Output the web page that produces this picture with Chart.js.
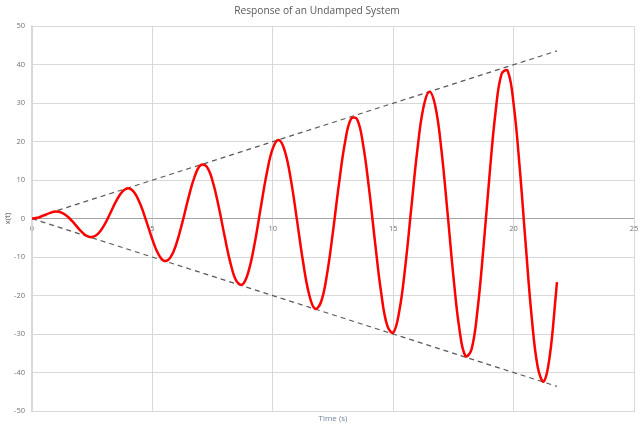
<!DOCTYPE html>
<html>
<head>
<meta charset="utf-8">
<script src="https://cdn.jsdelivr.net/npm/chart.js@4/dist/chart.umd.min.js"></script>
<style>
html,body{margin:0;padding:0;background:#fff;}
#wrap{width:640px;height:429px;position:relative;}
</style>
</head>
<body>
<div id="wrap"><canvas id="c"></canvas></div>
<script>
// Time samples (s)
const timeValues = [
  0, 0.25, 0.5, 0.75, 1, 1.25, 1.5, 1.75, 2, 2.25, 2.5, 2.75, 3, 3.25, 3.5, 3.75,
  4, 4.25, 4.5, 4.75, 5, 5.25, 5.5, 5.75, 6, 6.25, 6.5, 6.75, 7, 7.25, 7.5, 7.75,
  8, 8.25, 8.5, 8.75, 9, 9.25, 9.5, 9.75, 10, 10.25, 10.5, 10.75, 11, 11.25, 11.5, 11.75,
  12, 12.25, 12.5, 12.75, 13, 13.25, 13.5, 13.75, 14, 14.25, 14.5, 14.75, 15, 15.25, 15.5, 15.75,
  16, 16.25, 16.5, 16.75, 17, 17.25, 17.5, 17.75, 18, 18.25, 18.5, 18.75, 19, 19.25, 19.5, 19.75,
  20, 20.25, 20.5, 20.75, 21, 21.25, 21.5, 21.75, 21.8
];
// Response x(t)
const responseValues = [
  0, 0.24, 0.84, 1.5, 1.82, 1.5, 0.42, -1.23, -3.03, -4.4, -4.79, -3.88, -1.68, 1.4, 4.6, 7.04,
  7.92, 6.79, 3.71, -0.71, -5.44, -9.24, -11.0, -10.07, -6.44, -0.83, 5.46, 10.85, 13.87, 13.56, 9.75, 3.2,
  -4.61, -11.75, -16.34, -17.09, -13.52, -6.34, 2.85, 11.81, 18.26, 20.44, 17.57, 10.14, -0.19, -10.96, -19.46, -23.45,
  -21.73, -14.49, -3.31, 9.16, 19.83, 25.95, 25.82, 19.24, 7.59, -6.37, -19.24, -27.76, -29.64, -24.15, -12.52, 2.65,
  17.65, 28.73, 33.0, 29.19, 17.99, 1.98, -14.99, -28.73, -35.71, -34.06, -23.81, -7.42, 11.26, 27.64, 37.59, 38.46,
  29.8, 13.54, -6.5, -25.47, -38.49, -42.33, -35.77, -20.13, -16.5
];
// Envelope lines
const envelopeTime = [0, 21.8];
const upperEnvelope = [0, 43.6];
const lowerEnvelope = [0, -43.6];

const xTicks = [0, 5, 10, 15, 20, 25];
const yTicks = [-50, -40, -30, -20, -10, 0, 10, 20, 30, 40, 50];

const toPts = (xs, ys) => xs.map((x, i) => ({x: x, y: ys[i]}));

const tickFont = {family: "'Open Sans', sans-serif", size: 7.5};
const tickColor = '#737373';
const gridColor = '#d9d9d9';

new Chart(document.getElementById('c'), {
  type: 'scatter',
  data: {
    datasets: [
      {
        label: 'x(t)',
        data: toPts(timeValues, responseValues),
        showLine: true,
        borderColor: '#ff0000',
        borderWidth: 2.5,
        pointRadius: 0,
        tension: 0.4,
        order: 0,
        xAxisID: 'x', yAxisID: 'y'
      },
      {
        label: 'upper',
        data: toPts(envelopeTime, upperEnvelope),
        showLine: true,
        borderColor: '#595959',
        borderWidth: 1.2,
        borderDash: [5, 4],
        pointRadius: 0,
        order: 1,
        xAxisID: 'x', yAxisID: 'y'
      },
      {
        label: 'lower',
        data: toPts(envelopeTime, lowerEnvelope),
        showLine: true,
        borderColor: '#595959',
        borderWidth: 1.2,
        borderDash: [5, 4],
        pointRadius: 0,
        order: 1,
        xAxisID: 'x', yAxisID: 'y'
      }
    ]
  },
  options: {
    responsive: true,
    maintainAspectRatio: false,
    animation: false,
    layout: {padding: {left: 0, right: 6, top: 0, bottom: 0}},
    plugins: {
      legend: {display: false},
      tooltip: {enabled: false},
      title: {
        display: true,
        text: 'Response of an Undamped System',
        color: '#595959',
        font: {family: "'Open Sans', sans-serif", size: 10.2, weight: 'normal'},
        padding: {top: 5, bottom: 9}
      }
    },
    scales: {
      x: {
        type: 'linear',
        position: 'bottom',
        min: 0, max: 25,
        afterBuildTicks: (s) => { s.ticks = xTicks.map(v => ({value: v})); },
        ticks: {display: false},
        grid: {color: gridColor, drawTicks: false, lineWidth: 1},
        border: {display: true, color: gridColor},
        title: {
          display: true, text: 'Time (s)', color: '#7484a0',
          font: {family: "'Open Sans', sans-serif", size: 8},
          padding: {top: 0, bottom: 5}
        },
        afterFit: (s) => { s.height = 18; }
      },
      x2: {
        type: 'linear',
        position: {y: 0},
        min: 0, max: 25,
        afterBuildTicks: (s) => { s.ticks = xTicks.map(v => ({value: v})); },
        ticks: {color: tickColor, font: tickFont, padding: 6, maxRotation: 0},
        grid: {display: false, drawTicks: false},
        border: {display: false},
        afterFit: (s) => { s.paddingRight = 0; s.paddingLeft = 0; }
      },
      y: {
        type: 'linear',
        position: 'left',
        min: -50, max: 50,
        afterBuildTicks: (s) => { s.ticks = yTicks.map(v => ({value: v})); },
        ticks: {color: tickColor, font: tickFont, padding: 7},
        grid: {
          color: (ctx) => (ctx.tick && ctx.tick.value === 0) ? '#a6a6a6' : gridColor,
          drawTicks: false, lineWidth: 1
        },
        border: {display: true, color: gridColor, width: 1.5},
        title: {
          display: true, text: 'x(t)', color: '#595959',
          font: {family: "'Open Sans', sans-serif", size: 8},
          padding: {top: 3, bottom: 0}
        },
        afterFit: (s) => { s.width = 32; s.paddingTop = 0; s.paddingBottom = 0; }
      }
    }
  }
});
</script>
</body>
</html>
